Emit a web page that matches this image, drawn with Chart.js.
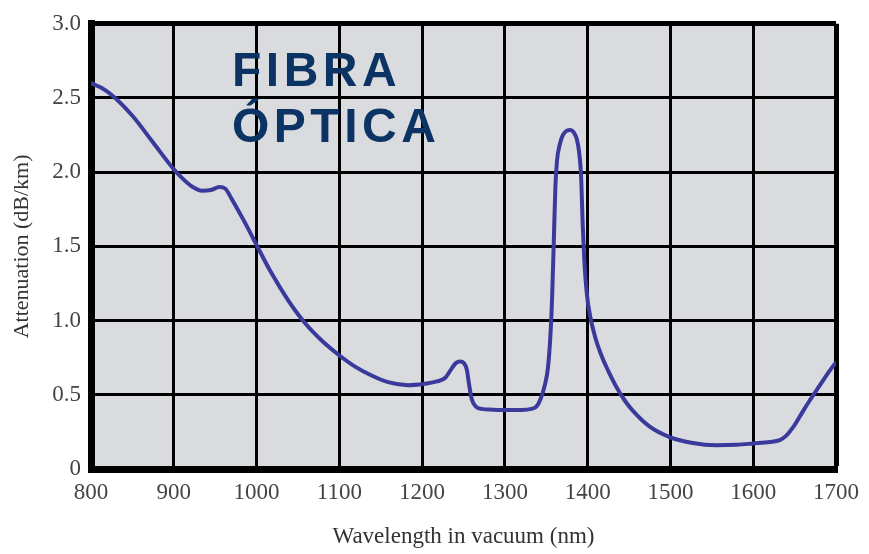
<!DOCTYPE html>
<html lang="es">
<head>
    <meta charset="UTF-8">
    <title>Fibra óptica - atenuación</title>
    <script src="https://cdn.jsdelivr.net/npm/chart.js"></script>
    <style>
        html, body { margin: 0; padding: 0; background: #fff; }
        .wrap { position: relative; width: 869px; height: 554px; }
        .overlay {
            position: absolute;
            left: 232px;
            top: 42px;
            font-family: "Liberation Sans", Arial, sans-serif;
            font-weight: bold;
            font-size: 48px;
            line-height: 56px;
            letter-spacing: 4.5px;
            color: #0b3364;
            pointer-events: none;
        }
    </style>
</head>
<body>
    <div class="wrap">
        <canvas id="chart" width="869" height="554"></canvas>
        <div class="overlay">FIBRA<br>ÓPTICA</div>
    </div>

    <script>
        // wavelength (nm) and attenuation (dB/km)
        const wavelengths = [800, 812, 825, 850, 875, 900, 912, 923, 934, 945, 955, 962, 970, 985,
            1000, 1018, 1039, 1059, 1079, 1099, 1119, 1139, 1159, 1183, 1203, 1218, 1228, 1236,
            1241, 1246, 1251, 1254, 1257, 1260, 1265, 1272, 1285, 1300, 1320, 1332, 1338, 1343,
            1348, 1352, 1355, 1357, 1359, 1361, 1363, 1366, 1370, 1375, 1379, 1383, 1387, 1390,
            1392, 1394, 1396, 1399, 1403, 1409, 1417, 1425, 1435, 1445, 1455, 1475, 1499, 1527,
            1555, 1580, 1600, 1620, 1632, 1640, 1648, 1658, 1668, 1680, 1692, 1700];
        const attenuation = [2.60, 2.57, 2.52, 2.38, 2.20, 2.02, 1.95, 1.90, 1.875, 1.88, 1.90, 1.89, 1.82, 1.67,
            1.51, 1.32, 1.13, 0.98, 0.864, 0.77, 0.69, 0.63, 0.585, 0.565, 0.575, 0.59, 0.615, 0.68,
            0.715, 0.725, 0.71, 0.67, 0.56, 0.47, 0.42, 0.405, 0.40, 0.398, 0.398, 0.405, 0.42, 0.47,
            0.56, 0.68, 0.90, 1.15, 1.52, 1.90, 2.08, 2.18, 2.25, 2.28, 2.285, 2.27, 2.22, 2.12,
            1.98, 1.65, 1.40, 1.18, 1.03, 0.89, 0.76, 0.66, 0.55, 0.46, 0.39, 0.285, 0.215, 0.175,
            0.16, 0.163, 0.172, 0.182, 0.195, 0.225, 0.28, 0.37, 0.46, 0.56, 0.66, 0.72];
        const xTicks = [800, 900, 1000, 1100, 1200, 1300, 1400, 1500, 1600, 1700];
        const yTicks = [0, 0.5, 1.0, 1.5, 2.0, 2.5, 3.0];

        const points = wavelengths.map((w, i) => ({ x: w, y: attenuation[i] }));

        // grey plot background
        const plotBackground = {
            id: 'plotBackground',
            beforeDraw(chart) {
                const { ctx, chartArea } = chart;
                ctx.save();
                ctx.fillStyle = '#d9dbde';
                ctx.fillRect(chartArea.left, chartArea.top, chartArea.right - chartArea.left, chartArea.bottom - chartArea.top);
                ctx.restore();
            }
        };

        const serif = '"Liberation Serif", "Times New Roman", serif';

        new Chart(document.getElementById('chart'), {
            type: 'line',
            data: {
                datasets: [{
                    data: points,
                    borderColor: '#3a3a9c',
                    borderWidth: 4,
                    pointRadius: 0,
                    cubicInterpolationMode: 'monotone',
                    fill: false
                }]
            },
            options: {
                responsive: false,
                animation: false,
                layout: { padding: { top: 23, right: 29, left: 0, bottom: 0 } },
                plugins: {
                    legend: { display: false },
                    tooltip: { enabled: false }
                },
                scales: {
                    x: {
                        type: 'linear',
                        min: xTicks[0],
                        max: xTicks[xTicks.length - 1],
                        afterBuildTicks(scale) {
                            scale.ticks = xTicks.map(v => ({ value: v }));
                        },
                        afterFit(scale) { scale.height = 85; },
                        ticks: {
                            color: '#444',
                            font: { family: serif, size: 23 },
                            padding: 10,
                            maxRotation: 0,
                            callback: v => String(v)
                        },
                        grid: {
                            color: '#000',
                            lineWidth: ctx => ctx.index === xTicks.length - 1 ? 5 : 3,
                            drawTicks: false
                        },
                        border: { color: '#000', width: 7 },
                        title: {
                            display: true,
                            text: 'Wavelength in vacuum (nm)',
                            color: '#333',
                            font: { family: serif, size: 23 },
                            padding: { top: 0, bottom: 3 }
                        }
                    },
                    y: {
                        min: yTicks[0],
                        max: yTicks[yTicks.length - 1],
                        afterBuildTicks(scale) {
                            scale.ticks = yTicks.map(v => ({ value: v }));
                        },
                        afterFit(scale) { scale.width = 91; },
                        ticks: {
                            color: '#444',
                            font: { family: serif, size: 23 },
                            padding: 10,
                            callback: v => v === 0 ? '0' : v.toFixed(1)
                        },
                        grid: {
                            color: '#000',
                            lineWidth: ctx => ctx.index === yTicks.length - 1 ? 5 : 3,
                            drawTicks: false
                        },
                        border: { color: '#000', width: 7 },
                        title: {
                            display: true,
                            text: 'Attenuation (dB/km)',
                            color: '#333',
                            font: { family: serif, size: 22 },
                            padding: { top: 9, bottom: 0 }
                        }
                    }
                }
            },
            plugins: [plotBackground]
        });
    </script>
</body>
</html>
